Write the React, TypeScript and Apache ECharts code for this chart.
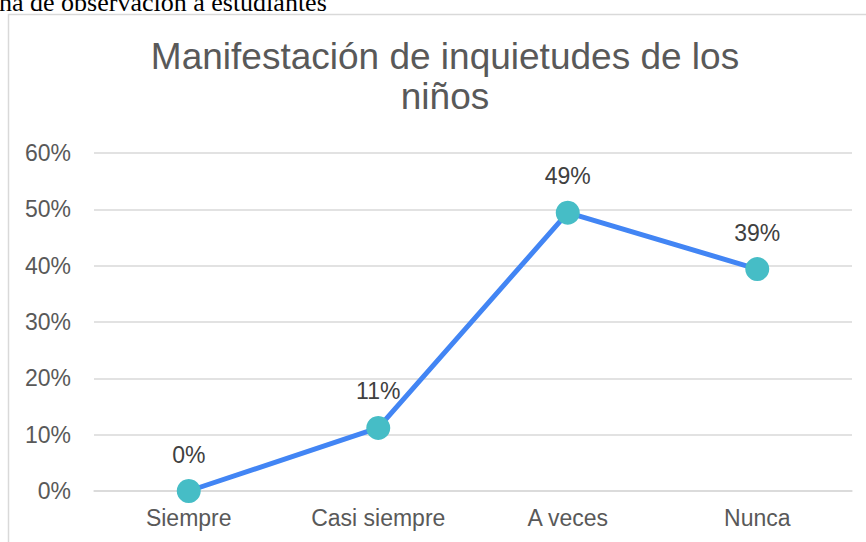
import React, { useEffect, useRef } from "react";
import * as echarts from "echarts";

const categories = ["Siempre", "Casi siempre", "A veces", "Nunca"];
const values = [0, 11.2, 49.4, 39.4];
const titleText = "Manifestación de inquietudes de los\nniños";
const captionText = "ha de observación a estudiantes";

export default function App() {
  const ref = useRef<HTMLDivElement>(null);
  useEffect(() => {
    if (!ref.current) return;
    const chart = echarts.init(ref.current, null, { renderer: "svg" });
    const font = "Liberation Sans, Arial, sans-serif";
    chart.setOption({
      animation: false,
      backgroundColor: "#ffffff",
      title: {
        text: titleText,
        left: 440,
        top: 31,
        textAlign: "center",
        textStyle: {
          fontFamily: font,
          fontSize: 37,
          fontWeight: "normal",
          color: "#595959",
          lineHeight: 40,
        },
      },
      graphic: [
        {
          type: "rect",
          shape: { x: 8.5, y: 14.5, width: 900, height: 600 },
          style: { fill: "none", stroke: "#d9d9d9", lineWidth: 1.5 },
          silent: true,
          z: -1,
        },
        {
          type: "text",
          x: -1,
          y: -11,
          style: {
            text: captionText,
            font: '26px "Liberation Serif", "Times New Roman", serif',
            fill: "#000000",
            verticalAlign: "top",
          },
          silent: true,
        },
      ],
      grid: { left: 94, right: 14, top: 153, bottom: 51 },
      xAxis: {
        type: "category",
        data: categories,
        boundaryGap: true,
        axisLine: { show: true, lineStyle: { color: "#d9d9d9", width: 1.5 } },
        axisTick: { show: false },
        axisLabel: {
          fontFamily: font,
          fontSize: 23,
          color: "#595959",
          margin: 15,
        },
      },
      yAxis: {
        type: "value",
        min: 0,
        max: 60,
        interval: 10,
        axisLine: { show: false },
        axisTick: { show: false },
        splitLine: { lineStyle: { color: "#d9d9d9", width: 1.5 } },
        axisLabel: {
          formatter: "{value}%",
          fontFamily: font,
          fontSize: 23,
          color: "#595959",
          margin: 23,
        },
      },
      series: [
        {
          type: "line",
          data: values,
          symbol: "circle",
          symbolSize: 24,
          lineStyle: { color: "#4285f4", width: 5 },
          itemStyle: { color: "#46bdc6" },
          label: {
            show: true,
            position: "top",
            distance: 13,
            formatter: (p: any) => Math.round(p.value) + "%",
            fontFamily: font,
            fontSize: 23,
            color: "#404040",
          },
        },
      ],
    });
    return () => chart.dispose();
  }, []);
  return (
    <div
      ref={ref}
      style={{ position: "fixed", left: 0, top: 0, width: 866, height: 542 }}
    />
  );
}
